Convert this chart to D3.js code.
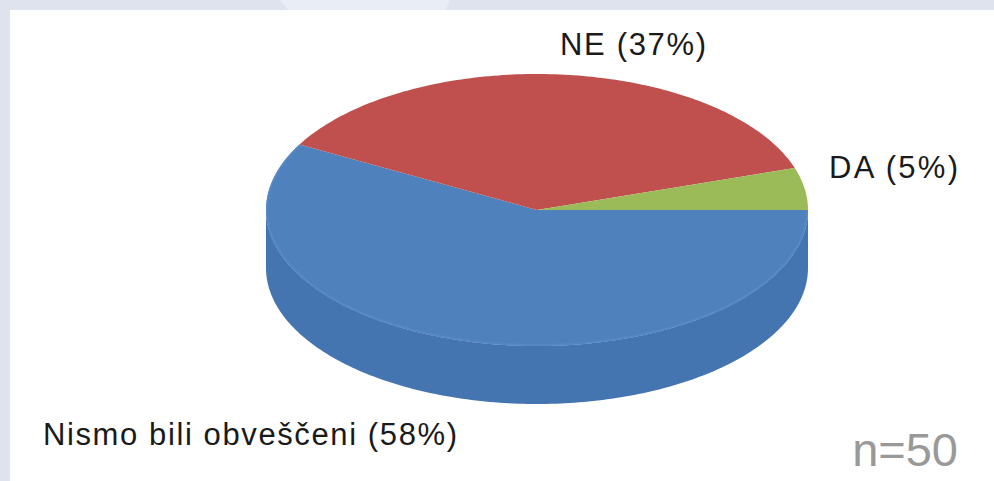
<!DOCTYPE html>
<html>
<head>
<meta charset="utf-8">
<script src="https://cdn.jsdelivr.net/npm/d3@7"></script>
<style>
  html, body { margin: 0; padding: 0; background: #dfe3ed; }
  svg { display: block; }
</style>
</head>
<body>
<div id="chart"></div>
<script>
let w = 994, h = 481;

// values
let categories = ["Nismo bili obveščeni", "NE", "DA"];
let shares = [58, 37, 5];
let sampleNote = "n=50";

let topColors = ["#4f81bd", "#c0504d", "#9bbb59"];
let sideColor = "#4475b0";
let rimColor = "#5587c4";

// pie geometry
let cx = 537, cy = 210, rx = 271, ry = 136, depth = 58;

let svg = d3.select("#chart").append("svg")
    .attr("width", w)
    .attr("height", h)
;

// slide background
svg.append("path")
    .attr("d", "M280,0 L450,0 L446,10 L288,10 Z")
    .attr("fill", "#e9edf6");
svg.append("rect")
    .attr("x", 10)
    .attr("y", 10)
    .attr("width", w - 10)
    .attr("height", h - 10)
    .attr("fill", "white");

// unit circle mapped on to the tilted ellipse
let xScale = d3.scaleLinear().domain([-1, 1]).range([cx - rx, cx + rx]);
let yScale = d3.scaleLinear().domain([-1, 1]).range([cy - ry, cy + ry]);

let pie = d3.pie()
    .sort(null)
    .startAngle(Math.PI / 2)
    .endAngle(Math.PI / 2 + 2 * Math.PI);
let slices = pie(shares);

function pointAt(a) {
  return [xScale(Math.sin(a)), yScale(-Math.cos(a))];
}

// front wall of the pie, only the blue slice faces us
let sideAngles = d3.range(Math.PI / 2, 3 * Math.PI / 2 + 0.001, Math.PI / 180);
let sideArea = d3.area()
    .x(a => pointAt(a)[0])
    .y0(a => pointAt(a)[1])
    .y1(a => pointAt(a)[1] + depth);

svg.append("path")
    .attr("d", sideArea(sideAngles))
    .attr("fill", sideColor);

// top faces
function sliceAngles(d) {
  return d3.range(d.startAngle, d.endAngle, Math.PI / 180).concat([d.endAngle]);
}
function slicePath(d) {
  return d3.line()(sliceAngles(d).map(pointAt).concat([[cx, cy]])) + "Z";
}

svg.selectAll(".slice")
    .data(slices)
    .enter()
    .append("path")
    .attr("class", "slice")
    .attr("d", slicePath)
    .attr("fill", (d, i) => topColors[i]);

// lighter rim along the edge of the blue face
svg.append("path")
    .attr("d", d3.line()(sliceAngles(slices[0]).map(a => {
      let p = pointAt(a);
      return [cx + (p[0] - cx) * 0.996, cy + (p[1] - cy) * 0.992];
    })))
    .attr("fill", "none")
    .attr("stroke", rimColor)
    .attr("stroke-width", 2);

// labels
let labelSpots = [
  { x: 43, y: 445, len: 414 },
  { x: 560, y: 55, len: 146 },
  { x: 829, y: 178, len: 129 }
];

svg.selectAll(".label")
    .data(categories)
    .enter()
    .append("text")
    .attr("class", "label")
    .attr("x", (d, i) => labelSpots[i].x)
    .attr("y", (d, i) => labelSpots[i].y)
    .attr("textLength", (d, i) => labelSpots[i].len)
    .attr("lengthAdjust", "spacing")
    .attr("font-family", "Liberation Sans")
    .attr("font-size", 31)
    .attr("fill", "#1a1a1a")
    .text((d, i) => d + " (" + shares[i] + "%)");

svg.append("text")
    .attr("x", 958)
    .attr("y", 466)
    .attr("text-anchor", "end")
    .attr("font-family", "Liberation Sans")
    .attr("font-size", 47)
    .attr("fill", "#999999")
    .text(sampleNote);
</script>
</body>
</html>
